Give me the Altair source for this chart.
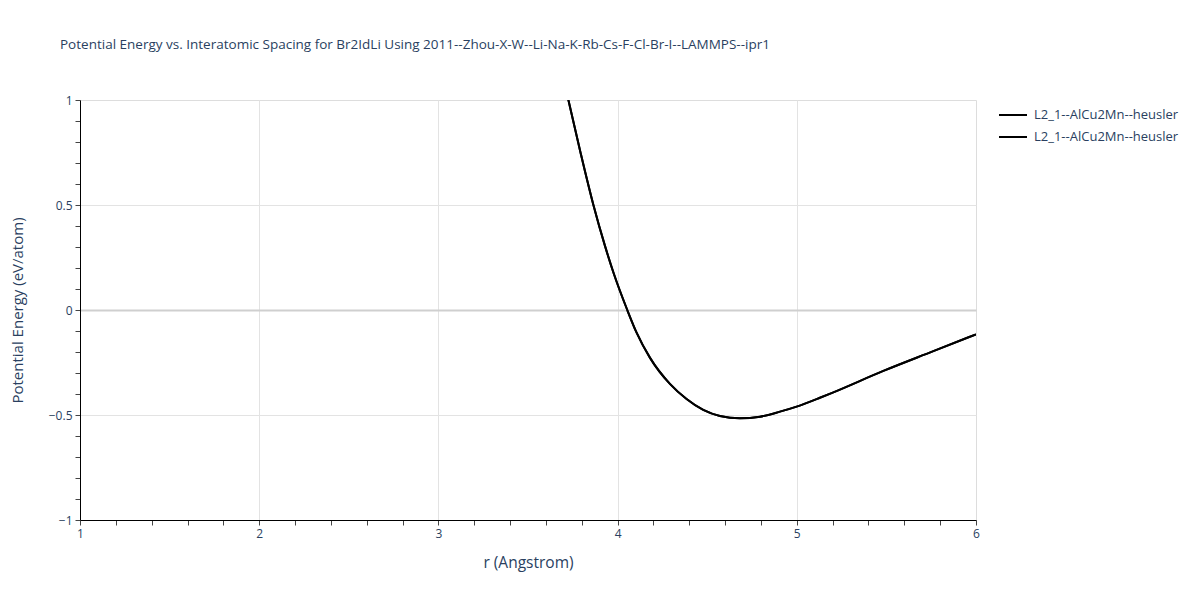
import altair as alt
import pandas as pd

# Data
r_vals = [3.72, 3.793, 3.865, 3.93, 3.98, 4.054, 4.106, 4.181, 4.292, 4.385,
          4.478, 4.571, 4.683, 4.795, 4.906, 4.999, 5.129, 5.204, 5.483, 5.762, 6.0]
e_series1 = [1.02, 0.75, 0.5, 0.304, 0.170, 0.0, -0.108, -0.228, -0.352, -0.424,
             -0.476, -0.505, -0.516, -0.508, -0.484, -0.460, -0.418, -0.392, -0.290,
             -0.196, -0.116]
e_series2 = [1.02, 0.75, 0.5, 0.304, 0.170, 0.0, -0.108, -0.228, -0.352, -0.424,
             -0.476, -0.505, -0.516, -0.508, -0.484, -0.460, -0.418, -0.392, -0.290,
             -0.196, -0.116]
series_keys = ["s1", "s2"]
series_label = "L2_1--AlCu2Mn--heusler"

x_minor_ticks = [round(1 + 0.2 * i, 1) for i in range(26)]
y_minor_ticks = [round(-1 + 0.1 * i, 1) for i in range(21)]
x_grid = [2, 3, 4, 5]
y_grid = [-0.5, 0, 0.5]

rows = []
for key, ev in zip(series_keys, [e_series1, e_series2]):
    for r, e in zip(r_vals, ev):
        rows.append({"r": r, "E": e, "series": key})
df = pd.DataFrame(rows)

FONT = "Open Sans"
TXT = "#2a3f5f"

xs = alt.Scale(domain=[1, 6], nice=False, zero=False)
ys = alt.Scale(domain=[-1, 1], nice=False, zero=False)

grid_layer = alt.Chart(df).mark_line(opacity=0).encode(
    x=alt.X("r:Q", scale=xs, axis=alt.Axis(
        values=x_grid, grid=True, ticks=False, labels=False, domain=False,
        title=None, orient="bottom", gridColor="#e3e3e3", gridWidth=1)),
    y=alt.Y("E:Q", scale=ys, axis=alt.Axis(
        values=y_grid, grid=True, ticks=False, labels=False, domain=False,
        title=None, orient="left",
        gridColor={"condition": {"test": "datum.value === 0", "value": "#cfcfcf"},
                   "value": "#e3e3e3"},
        gridWidth={"condition": {"test": "datum.value === 0", "value": 2},
                   "value": 1})),
    detail="series:N",
)

line_layer = alt.Chart(df).mark_line(strokeWidth=2, clip=True, interpolate="monotone").encode(
    x=alt.X("r:Q", scale=xs, axis=alt.Axis(
        values=x_minor_ticks, grid=False, orient="bottom",
        labelExpr="abs(datum.value - round(datum.value)) < 1e-6 ? datum.label : ''",
        format=".1~f", labelFlush=False, labelOverlap=False, labelBound=False,
        tickSize=5, tickColor="#444444", domainColor="#000000", domainWidth=1,
        labelFont=FONT, labelFontSize=12, labelColor=TXT, labelPadding=3,
        title="r (Angstrom)", titleFont=FONT, titleFontSize=15.5, titleColor=TXT,
        titleFontWeight="normal", titlePadding=16)),
    y=alt.Y("E:Q", scale=ys, axis=alt.Axis(
        values=y_minor_ticks, grid=False, orient="left",
        labelExpr="abs(datum.value*2 - round(datum.value*2)) < 1e-6 ? datum.label : ''",
        format=".2~f", labelFlush=False, labelOverlap=False, labelBound=False,
        tickSize=5, tickColor="#444444", domainColor="#000000", domainWidth=1,
        labelFont=FONT, labelFontSize=12, labelColor=TXT, labelPadding=3,
        title="Potential Energy (eV/atom)", titleFont=FONT, titleFontSize=15,
        titleColor=TXT, titleFontWeight="normal", titlePadding=23)),
    color=alt.Color("series:N", scale=alt.Scale(domain=series_keys, range=["#000000", "#000000"]),
                    legend=alt.Legend(
                        title=None, orient="none", legendX=918, legendY=0,
                        symbolType="stroke", symbolSize=784, symbolStrokeWidth=2,
                        labelExpr="'" + series_label + "'",
                        labelFont=FONT, labelFontSize=13, labelColor=TXT,
                        labelOffset=6, rowPadding=-1, padding=0)),
)

chart = alt.layer(grid_layer, line_layer).resolve_axis(
    x="independent", y="independent"
).properties(
    width=896, height=420,
    padding={"left": 72, "top": 92, "right": 216, "bottom": 72},
    autosize=alt.AutoSizeParams(type="none"),
    title=alt.TitleParams(
        "Potential Energy vs. Interatomic Spacing for Br2IdLi Using 2011--Zhou-X-W--Li-Na-K-Rb-Cs-F-Cl-Br-I--LAMMPS--ipr1",
        anchor="start", frame="group", dx=-20, offset=36, baseline="middle",
        font=FONT, fontSize=13.5, fontWeight="normal", color=TXT),
).configure_view(stroke=None).configure(background="white")

chart.save("out.html", embed_options={"renderer": "svg", "actions": False})
